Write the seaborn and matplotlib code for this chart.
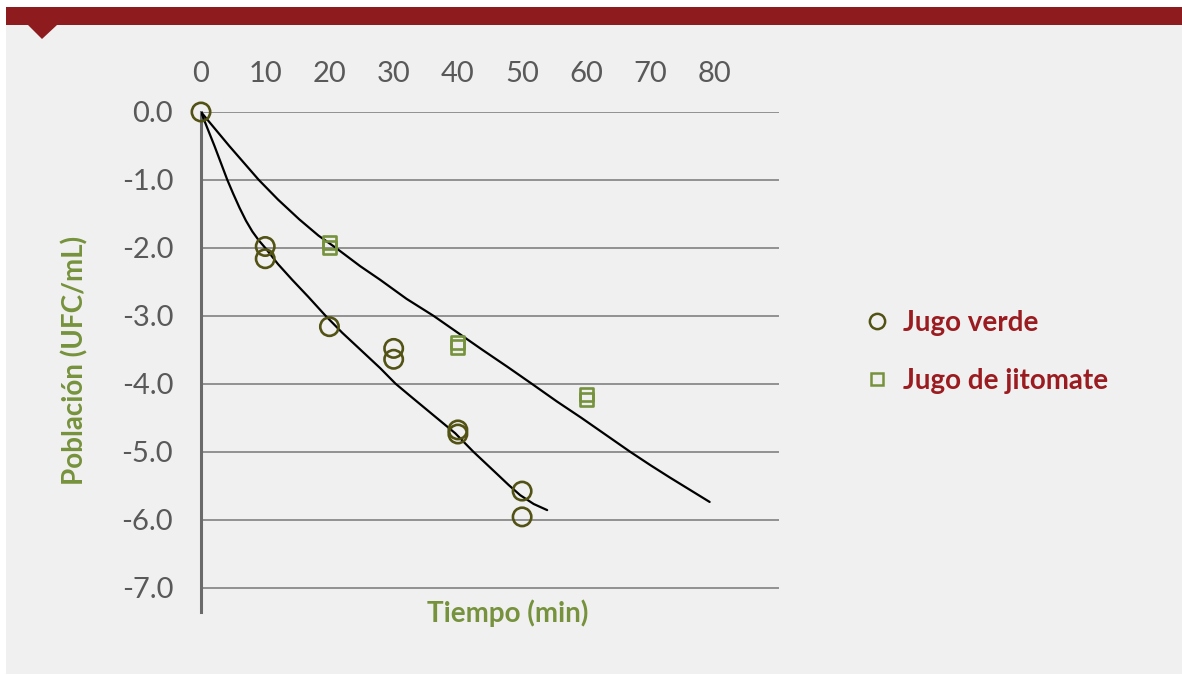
import matplotlib
matplotlib.use("Agg")
import matplotlib.pyplot as plt
import seaborn as sns
import pandas as pd
from matplotlib.patches import Rectangle, Polygon
from matplotlib.lines import Line2D

# ---- data ----
verde_t = [0, 10, 10, 20, 30, 30, 40, 40, 50, 50]
verde_pop = [0.0, -1.98, -2.16, -3.16, -3.48, -3.64, -4.68, -4.74, -5.58, -5.96]
jito_t = [20, 20, 40, 40, 60, 60]
jito_pop = [-1.92, -2.00, -3.39, -3.46, -4.16, -4.23]

# fitted curves, points
curva_verde_t = [0, 1.0, 2.1, 3.1, 4.1, 5.0, 6.0, 7.0, 8.0, 9.0, 10.0, 12.0, 14.2,
                 16.7, 19.4, 22.0, 24.5, 27.9, 30.3, 32.7, 35.0, 37.3, 39.6, 42.4,
                 44.2, 46.0, 47.9, 49.7, 51.8, 53.9]
curva_verde_pop = [0, -0.24, -0.5, -0.75, -1.0, -1.2, -1.41, -1.6, -1.76, -1.89,
                   -2.0, -2.24, -2.47, -2.72, -3.0, -3.25, -3.47, -3.77, -4.0,
                   -4.19, -4.37, -4.55, -4.73, -5.0, -5.16, -5.32, -5.49, -5.64,
                   -5.77, -5.86]
curva_jito_t = [0, 2.2, 4.4, 6.7, 9.0, 12.0, 15.3, 18.3, 21.0, 24.8, 27.9, 32.0,
                36.2, 40.0, 43.8, 47.7, 51.5, 55.4, 59.2, 63.0, 66.8, 70.0, 73.0,
                76.1, 79.2]
curva_jito_pop = [0, -0.25, -0.5, -0.75, -1.0, -1.29, -1.58, -1.82, -2.0, -2.27,
                  -2.47, -2.75, -3.0, -3.25, -3.5, -3.75, -4.0, -4.26, -4.5,
                  -4.75, -5.0, -5.2, -5.38, -5.56, -5.74]

x_ticks = [0, 10, 20, 30, 40, 50, 60, 70, 80]
y_ticks = [0.0, -1.0, -2.0, -3.0, -4.0, -5.0, -6.0, -7.0]
series_names = ["Jugo verde", "Jugo de jitomate"]

# ---- style ----
sns.set_theme(style="white")
plt.rcParams["font.family"] = ["Lato", "DejaVu Sans"]

W, H = 1182, 675
fig = plt.figure(figsize=(W / 100, H / 100), dpi=100)
fig.patch.set_facecolor("white")

def fx(px):
    return px / W

def fy(py):
    return 1 - py / H

# panel background, header bar, triangle
fig.patches.append(Rectangle((fx(6), fy(674)), fx(1182) - fx(6), fy(25) - fy(674),
                             transform=fig.transFigure, facecolor="#f0f0f0",
                             edgecolor="none", zorder=-3))
fig.patches.append(Rectangle((fx(6), fy(25)), fx(1182) - fx(6), fy(7) - fy(25),
                             transform=fig.transFigure, facecolor="#8e1c1e",
                             edgecolor="none", zorder=-2))
fig.patches.append(Polygon([(fx(28), fy(25)), (fx(57), fy(25)), (fx(42), fy(39))],
                           closed=True, transform=fig.transFigure,
                           facecolor="#8e1c1e", edgecolor="none", zorder=-2))

left, right, top, bottom = 201, 779, 112, 612
ax = fig.add_axes([fx(left), fy(bottom), fx(right) - fx(left), fy(top) - fy(bottom)])
ax.set_facecolor("none")
ax.set_zorder(2)

verde_col = "#525214"
jito_col = "#76923c"
label_col = "#76923c"
legend_col = "#9b1c20"
tick_col = "#595959"

df_curve_v = pd.DataFrame({"t": curva_verde_t, "pop": curva_verde_pop})
df_curve_j = pd.DataFrame({"t": curva_jito_t, "pop": curva_jito_pop})
sns.lineplot(data=df_curve_v, x="t", y="pop", ax=ax, color="black", lw=1.6,
             sort=False, estimator=None, zorder=3)
sns.lineplot(data=df_curve_j, x="t", y="pop", ax=ax, color="black", lw=1.6,
             sort=False, estimator=None, zorder=3)

df_v = pd.DataFrame({"t": verde_t, "pop": verde_pop})
df_j = pd.DataFrame({"t": jito_t, "pop": jito_pop})
sns.scatterplot(data=df_v, x="t", y="pop", ax=ax, marker="o", s=175,
                facecolor="none", edgecolor=verde_col, linewidth=1.9, zorder=4,
                clip_on=False)
sns.scatterplot(data=df_j, x="t", y="pop", ax=ax, marker="s", s=90,
                facecolor="none", edgecolor=jito_col, linewidth=1.9, zorder=4,
                clip_on=False)

ax.set_xlim(0, 90)
ax.set_ylim(-7.36, 0)
ax.set_xticks(x_ticks)
ax.set_xticklabels([str(v) for v in x_ticks])
ax.set_yticks(y_ticks)
ax.set_yticklabels([f"{v:.1f}" for v in y_ticks])
ax.xaxis.tick_top()
ax.tick_params(axis="x", length=0, pad=18, labelsize=21, labelcolor=tick_col)
ax.tick_params(axis="y", length=0, pad=20, labelsize=21, labelcolor=tick_col)
ax.set_xlabel("")
ax.set_ylabel("")

ax.grid(False)
for v in y_ticks:
    ax.axhline(v, color="#8a8a8a", lw=1.3, zorder=1)
for s in ["top", "right", "bottom"]:
    ax.spines[s].set_visible(False)
ax.spines["left"].set_color("#6a6a6a")
ax.spines["left"].set_linewidth(2.2)
ax.spines["left"].set_zorder(2)

fig.text(fx(75), fy(360), "Población (UFC/mL)", rotation=90, ha="center",
         va="center", fontsize=20, fontweight="bold", color=label_col)
fig.text(fx(508), fy(613), "Tiempo (min)", ha="center", va="center",
         fontsize=20, fontweight="bold", color=label_col)

handles = [
    Line2D([], [], ls="none", marker="o", markersize=11, markerfacecolor="none",
           markeredgecolor=verde_col, markeredgewidth=1.8),
    Line2D([], [], ls="none", marker="s", markersize=8, markerfacecolor="none",
           markeredgecolor=jito_col, markeredgewidth=1.8),
]
leg = fig.legend(handles, series_names, loc="center left",
                 bbox_to_anchor=(fx(838), fy(352)), frameon=False,
                 handlelength=1.0, handletextpad=0.45, labelspacing=1.15,
                 prop={"size": 20, "weight": "bold"})
for t in leg.get_texts():
    t.set_color(legend_col)

fig.savefig("out.png", dpi=100, facecolor=fig.get_facecolor())
